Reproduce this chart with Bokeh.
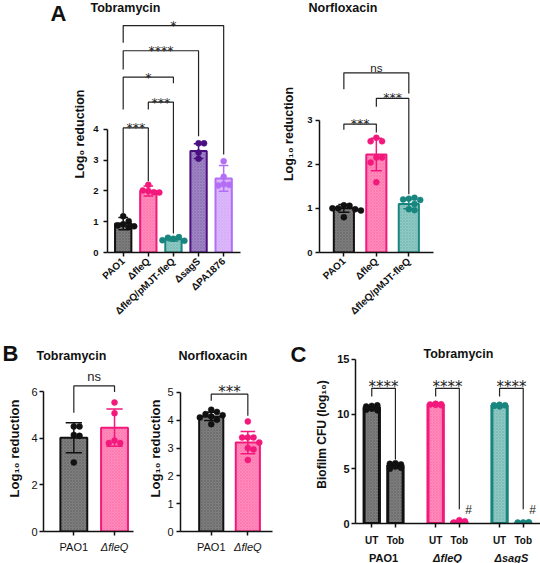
import numpy as np
from bokeh.plotting import figure
from bokeh.layouts import column, row
from bokeh.models import Range1d, FixedTicker, Label, ColumnDataSource
from bokeh.core.properties import value
from bokeh.embed import file_html
from bokeh.resources import INLINE

# ---------------- data ----------------
# Panel A - Tobramycin
a_tob_groups = ["PAO1", "ΔfleQ", "ΔfleQ/pMJT-fleQ", "ΔsagS", "ΔPA1876"]
a_tob_mean = [0.94, 2.00, 0.43, 3.30, 2.41]
a_tob_sd = [0.20, 0.16, 0.06, 0.24, 0.42]
a_tob_points = [
    [1.18, 0.92, 1.02, 0.88, 0.82, 0.85],
    [2.20, 2.00, 1.96, 2.02, 1.95],
    [0.45, 0.50, 0.48, 0.38, 0.40],
    [3.55, 3.55, 3.25, 3.05],
    [2.97, 2.46, 2.22, 2.20, 2.18],
]
a_tob_tests = [  # (group i, group j, bracket level, left leg end, right leg end, label)
    (0, 1, 4.05, 1.24, 2.32, "***"),
    (1, 2, 4.89, 4.65, 0.62, "***"),
    (0, 2, 5.70, 4.65, 5.50, "*"),
    (0, 3, 6.56, 5.95, 3.78, "****"),
    (0, 4, 7.38, 6.82, 3.19, "*"),
]

# Panel A - Norfloxacin
a_nor_groups = ["PAO1", "ΔfleQ", "ΔfleQ/pMJT-fleQ"]
a_nor_mean = [1.00, 2.22, 1.10]
a_nor_sd = [0.09, 0.37, 0.11]
a_nor_points = [
    [1.07, 1.06, 1.00, 0.98, 1.00, 0.95, 0.80],
    [2.60, 2.52, 2.52, 2.15, 2.15, 2.04, 1.59],
    [1.22, 1.24, 1.20, 1.19, 0.98, 0.96, 1.10],
]
a_nor_tests = [
    (0, 1, 2.91, 2.78, 2.72, "***"),
    (1, 2, 3.49, 3.30, 1.32, "***"),
    (0, 2, 4.07, 3.70, 3.60, "ns"),
]

# Panel B - Tobramycin
b_tob_groups = ["PAO1", "ΔfleQ"]
b_tob_mean = [4.02, 4.45]
b_tob_sd = [0.64, 0.80]
b_tob_points = [[4.50, 4.50, 4.14, 4.10, 2.96], [5.53, 5.07, 3.90, 3.79, 3.79]]
b_tob_tests = [(0, 1, 6.24, 5.09, 5.98, "ns")]

# Panel B - Norfloxacin
b_nor_groups = ["PAO1", "ΔfleQ"]
b_nor_mean = [4.14, 3.20]
b_nor_sd = [0.15, 0.40]
b_nor_points = [[4.38, 4.30, 4.22, 4.18, 4.14, 4.10, 4.02, 3.86],
                [3.96, 3.38, 3.38, 3.38, 3.20, 3.00, 2.95, 2.57]]
b_nor_tests = [(0, 1, 4.94, 4.70, 4.16, "***")]

# Panel C - Tobramycin biofilm CFU
c_strains = ["PAO1", "ΔfleQ", "ΔsagS"]
c_treat = ["UT", "Tob"]
c_ut_mean = [10.60, 10.88, 10.78]
c_tob_mean = [5.30, 0.15, 0.07]
c_ut_sd = [0.15, 0.08, 0.10]
c_tob_sd = [0.20, 0.12, 0.06]
c_ut_points = [[10.75, 10.80, 10.70, 10.60, 10.50, 10.40, 10.35, 10.55],
               [10.95, 10.90, 10.88, 10.85, 10.82, 10.90],
               [10.85, 10.80, 10.75, 10.70, 10.78, 10.82]]
c_tob_points = [[5.50, 5.40, 5.30, 5.20, 5.10, 5.00, 5.45, 5.35],
                [0.30, 0.20, 0.10, 0.00, 0.15, 0.05],
                [0.10, 0.05, 0.00, 0.08, 0.12, 0.02]]
c_tests = [(12.36, 11.60, 5.85, "****"), (12.36, 11.60, 1.30, "****"), (12.36, 11.60, 1.30, "****")]
c_hash = [None, "#", "#"]
c_hash_level = 1.2

# ---------------- styling ----------------
FONT = "Liberation Sans"
STAR_FONT = "DejaVu Sans"
INK = "#111111"
GRAY = dict(line="#111111", fill="#7f7f7f", dot="#111111")
PINK = dict(line="#f2187c", fill="#ff8cba", dot="#f2187c")
TEAL = dict(line="#18867f", fill="#90c9c4", dot="#18867f")
DPUR = dict(line="#4b0f82", fill="#9e86c3", dot="#4b0f82")
LPUR = dict(line="#b46ef5", fill="#dbb9fa", dot="#b46ef5")


def make_fig(w, h, ml, mr, mt, mb, xr, yr):
    p = figure(width=w, height=h, x_range=Range1d(*xr), y_range=Range1d(*yr),
               output_backend="svg", toolbar_location=None,
               min_border_left=ml, min_border_right=mr,
               min_border_top=mt, min_border_bottom=mb)
    p.grid.visible = False
    p.outline_line_color = None
    p.background_fill_color = "white"
    p.border_fill_color = "white"
    p.title.visible = False
    scale = ((w - ml - mr) / (xr[1] - xr[0]), (h - mt - mb) / (yr[1] - yr[0]))
    return p, scale


def text_fig(w, h, x_range=None, ml=0, mr=0):
    """A figure without axes whose vertical coordinate is pixels from its top."""
    p = figure(width=w, height=h,
               x_range=x_range if x_range is not None else Range1d(0, w),
               y_range=Range1d(h, 0), x_axis_type=None, y_axis_type=None,
               output_backend="svg", toolbar_location=None,
               min_border_left=ml, min_border_right=mr, min_border_top=0, min_border_bottom=0)
    p.grid.visible = False
    p.outline_line_color = None
    p.title.visible = False
    return p


def write(p, x, y, text, size, style="bold", align="left", baseline="middle", font=FONT):
    p.text(x=[x], y=[y], text=[text], text_font=value(font), text_font_size=f"{size}px",
           text_font_style=style, text_align=align, text_baseline=baseline, text_color=INK)


def style_axes(p, yticks, ytop, ylabel, ylab_size, ylab_standoff, ytick_size, ytick_style,
               ytick_standoff, xticks, xlabels, xtick_size, xtick_style, xtick_standoff=5,
               xorient=None, aw=1.5):
    ya = p.yaxis[0]
    ya.ticker = FixedTicker(ticks=yticks)
    ya.bounds = (0, ytop)
    ya.minor_tick_line_color = None
    ya.major_tick_in = 0
    ya.major_tick_out = 4
    ya.axis_line_width = aw
    ya.major_tick_line_width = aw
    ya.axis_line_color = INK
    ya.major_tick_line_color = INK
    ya.major_label_text_font = FONT
    ya.major_label_text_font_size = f"{ytick_size}px"
    ya.major_label_text_font_style = ytick_style
    ya.major_label_text_color = INK
    ya.major_label_standoff = ytick_standoff
    ya.axis_label = ylabel
    ya.axis_label_text_font = FONT
    ya.axis_label_text_font_size = f"{ylab_size}px"
    ya.axis_label_text_font_style = "bold"
    ya.axis_label_text_color = INK
    ya.axis_label_standoff = ylab_standoff
    xa = p.xaxis[0]
    xa.ticker = FixedTicker(ticks=xticks)
    xa.major_label_overrides = {t: l for t, l in zip(xticks, xlabels)}
    xa.minor_tick_line_color = None
    xa.major_tick_in = 0
    xa.major_tick_out = 4
    xa.axis_line_width = aw
    xa.major_tick_line_width = aw
    xa.axis_line_color = INK
    xa.major_tick_line_color = INK
    xa.major_label_text_font = FONT
    xa.major_label_text_font_size = f"{xtick_size}px"
    xa.major_label_text_font_style = xtick_style
    xa.major_label_text_color = INK
    xa.major_label_standoff = xtick_standoff
    if xorient is not None:
        xa.major_label_orientation = xorient


def swarm(vals, scale, dot, max_k=4):
    xpx, ypx = scale
    placed, offs = [], []
    ks = [0]
    for k in range(1, max_k + 1):
        ks += [k, -k]
    for v in vals:
        y = v * ypx
        best, bestd = None, -1
        for k in ks:
            x = k * dot * 0.95
            d = min([((x - a) ** 2 + (y - b) ** 2) ** 0.5 for a, b in placed] or [1e9])
            if d >= dot * 0.95:
                best = x
                break
            if d > bestd:
                best, bestd = x, d
        placed.append((best, y))
        offs.append(best / xpx)
    return offs


def draw_bars(p, scale, pos, means, sds, pts, colors, width, cap, dot, lw=2, max_k=4):
    src = ColumnDataSource(dict(x=pos, top=means,
                                fill=[c["fill"] for c in colors],
                                line=[c["line"] for c in colors]))
    p.vbar(x="x", top="top", bottom=0, width=width, fill_color="fill", line_color="line",
           line_width=lw, hatch_pattern="diagonal_cross", hatch_color="line",
           hatch_alpha=0.22, hatch_scale=3, hatch_weight=0.7, source=src)
    xs, ys, cs = [], [], []
    for x, vals, c in zip(pos, pts, colors):
        for o, v in zip(swarm(vals, scale, dot, max_k), vals):
            xs.append(x + o)
            ys.append(v)
            cs.append(c["dot"])
    p.scatter(xs, ys, size=dot, fill_color=cs, line_color=cs, line_width=0.5)
    up = [m + s for m, s in zip(means, sds)]
    lo = [m - s for m, s in zip(means, sds)]
    lc = [c["line"] for c in colors]
    p.segment(x0=pos, x1=pos, y0=lo, y1=up, line_color=lc, line_width=1.5)
    p.segment(x0=[x - cap for x in pos], x1=[x + cap for x in pos], y0=up, y1=up,
              line_color=lc, line_width=1.5)
    p.segment(x0=[x - cap for x in pos], x1=[x + cap for x in pos], y0=lo, y1=lo,
              line_color=lc, line_width=1.5)


def draw_brackets(p, tests, star_size, ns_size, star_off, ns_off):
    xs, ys = [], []
    for (i, j, lev, yl, yr, lab) in tests:
        xs.append([i, i, j, j])
        ys.append([yl, lev, lev, yr])
    p.multi_line(xs, ys, line_color="#222222", line_width=1.2)
    for (i, j, lev, yl, yr, lab) in tests:
        ns = lab == "ns"
        p.text(x=[(i + j) / 2], y=[lev], text=[lab],
               text_font=value(FONT if ns else STAR_FONT),
               text_font_size=f"{ns_size if ns else star_size}px",
               text_align="center", text_baseline="alphabetic",
               y_offset=-(ns_off if ns else star_off), text_color="#222222")


# ================= Row 1 : panel A =================
strip_a = text_fig(70, 325)
write(strip_a, 50, 12.5, "A", 22)
head_a = text_fig(470, 15)
write(head_a, 20, 7.8, "Tobramycin", 12.5)
write(head_a, 238, 7.8, "Norfloxacin", 12.5)

a1, s_a1 = make_fig(200, 310, 32, 30, 0, 73, (-0.625, 4.67), (0, 7.707))
pos = list(range(len(a_tob_groups)))
draw_bars(a1, s_a1, pos, a_tob_mean, a_tob_sd, a_tob_points,
          [GRAY, PINK, TEAL, DPUR, LPUR], 0.65, 0.19, 6)
draw_brackets(a1, a_tob_tests, 12.5, 11.5, 0, 5)
style_axes(a1, [0, 1, 2, 3, 4], 4, "Log₀ reduction", 12.5, 3, 9.5, "bold", 5,
           pos, a_tob_groups, 10, "bold", 3, xorient=0.75)

a2, s_a2 = make_fig(270, 310, 49, 107, 0, 73, (-0.75, 2.76), (0, 5.37))
pos = list(range(len(a_nor_groups)))
draw_bars(a2, s_a2, pos, a_nor_mean, a_nor_sd, a_nor_points, [GRAY, PINK, TEAL], 0.62, 0.17, 6)
draw_brackets(a2, a_nor_tests, 12.5, 11.5, 1, 5)
style_axes(a2, [0, 1, 2, 3], 3, "Log₁₀ reduction", 12.5, 8, 9.5, "bold", 3,
           pos, a_nor_groups, 10, "bold", 3, xorient=0.75)

row1 = row(column(strip_a), column(head_a, row(a1, a2)))

# ================= Row 2 : panel B =================
head_b1 = text_fig(140, 40)
write(head_b1, 2, 27.5, "B", 22)
write(head_b1, 36, 30, "Tobramycin", 12.5)
head_b2 = text_fig(135, 40)
write(head_b2, 38, 30, "Norfloxacin", 12.5)

b1, s_b1 = make_fig(140, 175, 43, 7, 0, 9, (-0.745, 1.466), (0, 7.115))
pos = list(range(len(b_tob_groups)))
draw_bars(b1, s_b1, pos, b_tob_mean, b_tob_sd, b_tob_points, [GRAY, PINK], 0.66, 0.2, 6)
draw_brackets(b1, b_tob_tests, 15, 13, 2, 9)
style_axes(b1, [0, 2, 4, 6], 6, "Log₁₀ reduction", 13, 6, 11, "normal", 2,
           pos, ["", ""], 1, "normal", 0)
foot_b1 = text_fig(140, 23, x_range=b1.x_range, ml=43, mr=7)
for x, g in zip(pos, b_tob_groups):
    write(foot_b1, x, 6.7, g, 11, style="italic" if g.startswith("Δ") else "normal",
          align="center")

b2, s_b2 = make_fig(135, 175, 40, 3, 0, 9, (-0.84, 1.674), (0, 5.97))
pos = list(range(len(b_nor_groups)))
draw_bars(b2, s_b2, pos, b_nor_mean, b_nor_sd, b_nor_points, [GRAY, PINK], 0.66, 0.2, 6)
draw_brackets(b2, b_nor_tests, 15, 13, 2, 9)
style_axes(b2, [0, 1, 2, 3, 4, 5], 5, "Log₁₀ reduction", 13, 1, 11, "normal", 3,
           pos, ["", ""], 1, "normal", 0)
foot_b2 = text_fig(135, 23, x_range=b2.x_range, ml=40, mr=3)
for x, g in zip(pos, b_nor_groups):
    write(foot_b2, x, 6.7, g, 11, style="italic" if g.startswith("Δ") else "normal",
          align="center")

block_b = column(row(head_b1, head_b2), row(column(b1, foot_b1), column(b2, foot_b2)))

# ================= Row 2 : panel C =================
strip_c = text_fig(37, 238)
write(strip_c, 15, 28.5, "C", 22)

GAP = 0.7
c, s_c = make_fig(228, 223, 38, 0, 20, 24, (-0.687, 7.13), (0, 16.27))
ut_pos = [g * (2 + GAP) for g in range(len(c_strains))]
tob_pos = [g * (2 + GAP) + 1 for g in range(len(c_strains))]
c_cols = [GRAY, PINK, TEAL]
draw_bars(c, s_c, ut_pos + tob_pos, c_ut_mean + c_tob_mean, c_ut_sd + c_tob_sd,
          c_ut_points + c_tob_points, c_cols + c_cols, 0.65, 0.15, 6, lw=3, max_k=1)
tests = [(u, t, lev, yl, yr, lab) for u, t, (lev, yl, yr, lab) in zip(ut_pos, tob_pos, c_tests)]
draw_brackets(c, tests, 15, 13, 1.5, 9)
hx = [t for t, h in zip(tob_pos, c_hash) if h]
c.text(x=hx, y=[c_hash_level] * len(hx), text=[h for h in c_hash if h], x_offset=6,
       text_font=value(FONT), text_font_size="12px", text_baseline="middle",
       text_color="#222222")
ticks = sorted(ut_pos + tob_pos)
tlabels = [c_treat[0] if t in ut_pos else c_treat[1] for t in ticks]
style_axes(c, [0, 5, 10, 15], 15, "Biofilm CFU (log₁₀)", 12, 5, 11, "bold", 2,
           ticks, tlabels, 10, "bold", 7)
c.add_layout(Label(x=68, y=170, x_units="screen", y_units="screen", text="Tobramycin",
                   text_font=FONT, text_font_size="12.5px", text_font_style="bold",
                   text_baseline="middle", text_color=INK))
foot_c = text_fig(228, 15, x_range=c.x_range, ml=38, mr=0)
for g, name in enumerate(c_strains):
    write(foot_c, g * (2 + GAP) + 0.5, 9.5, name, 11,
          style="bold" if g == 0 else "bold italic", align="center")

row2 = row(block_b, column(strip_c), column(c, foot_c))

layout = column(row1, row2)
open("out.html", "w").write(file_html(layout, INLINE))
